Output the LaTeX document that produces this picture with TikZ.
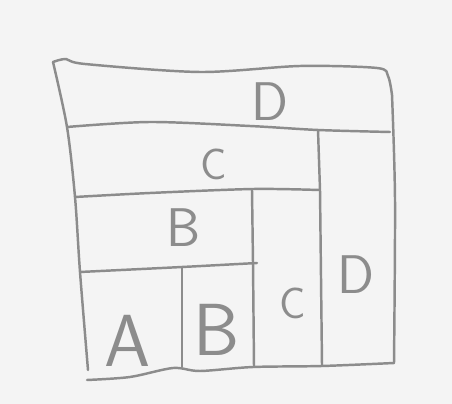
\documentclass[tikz,border=0pt]{standalone}
\usepackage{tikz}
\definecolor{pencil}{HTML}{8C8C8C}
\definecolor{paper}{HTML}{F4F4F4}
\tikzset{
  every picture/.style={line join=round, line cap=round},
  stroke/.style={draw=pencil, line width=1.4pt},
  letter/.style={text=pencil, inner sep=0pt, font=\sffamily\fontsize{31}{33}\selectfont},
  small letter/.style={letter, font=\sffamily\fontsize{25}{27}\selectfont},
  big letter/.style={letter, font=\sffamily\fontsize{42}{44}\selectfont},
}

\begin{document}
\begin{tikzpicture}[x=0.02cm,y=-0.02cm]
\fill[paper](0,0) rectangle (452,404);
\useasboundingbox (0,0) rectangle (452,404);
% outline
\draw[stroke] plot[smooth] coordinates {(53,62) (66,59) (85,64) (200,72) (300,66) (377,68) (388,76) (392,95)};
\draw[stroke] plot[smooth] coordinates {(392,95) (395,200) (394,363)};
\draw[stroke] plot[smooth] coordinates {(53,62) (67,127) (75,197) (80,272) (88,370)};
\draw[stroke] plot[smooth] coordinates {(87,380) (130,377) (173,368) (200,371) (253,367) (322,366) (394,363)};
% bands
\draw[stroke] plot[smooth] coordinates {(67,127) (150,122) (250,126) (318,130) (390,132)};
\draw[stroke](318,130)--(320,190)--(322,365);
\draw[stroke] plot[smooth] coordinates {(75,197) (150,193) (253,189) (319,190)};
\draw[stroke](252,190)--(253,263)--(254,367);
\draw[stroke] plot[smooth] coordinates {(80,272) (182,267) (257,263)};
\draw[stroke](182,267)--(182,367);
% labels
\node[letter] (topD) at (270,102) {D};
\node[small letter] (topC) at (214,164) {C};
\node[letter] (midB) at (184,228) {B};
\node[big letter] (botA) at (128,341) {A};
\node[big letter] (botB) at (217,330) {B};
\node[small letter] (botC) at (293,303) {C};
\node[letter] (sideD) at (356,275) {D};
\end{tikzpicture}
\end{document}
